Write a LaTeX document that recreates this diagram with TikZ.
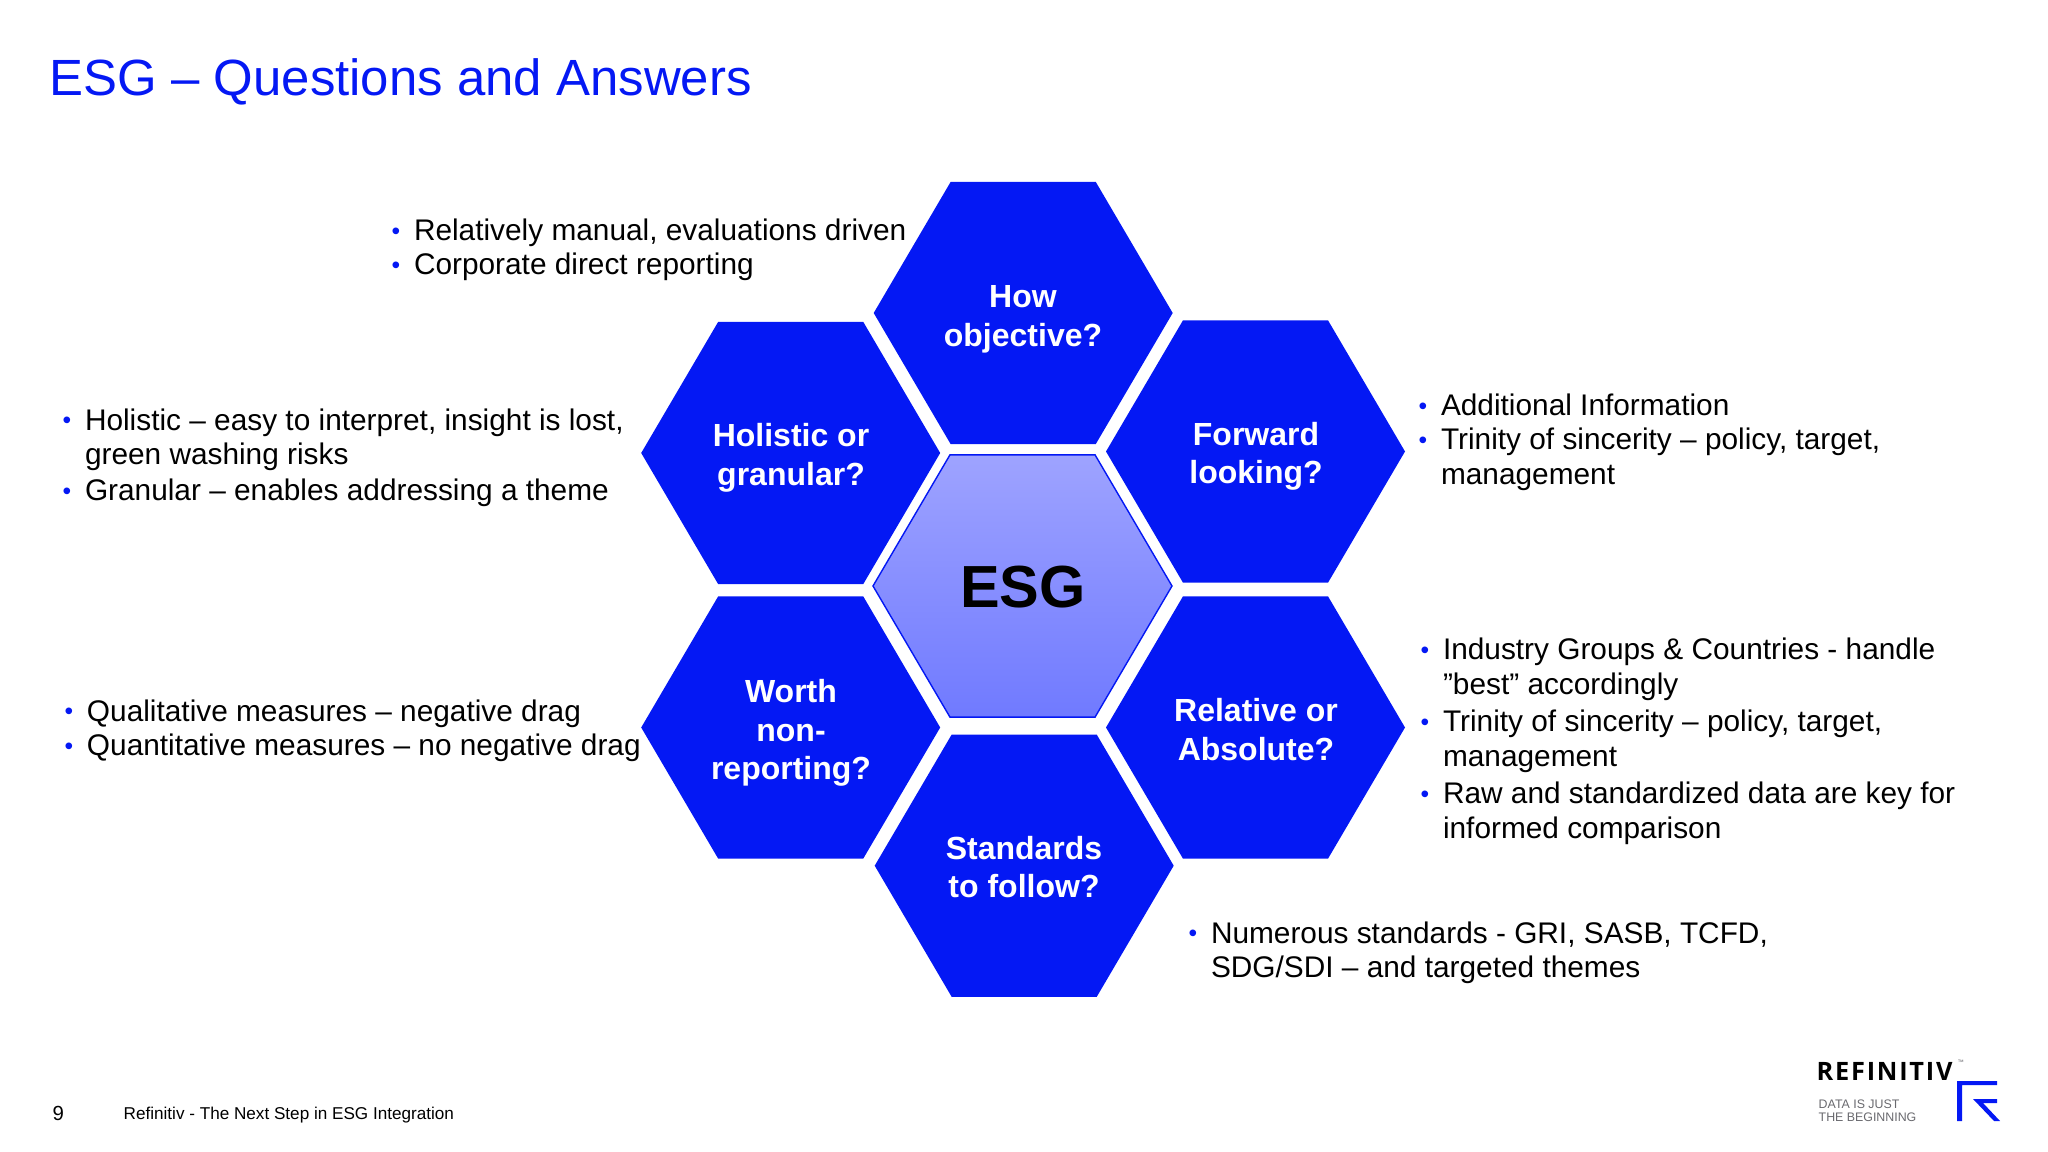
\documentclass[tikz,border=0pt]{standalone}
\usepackage{fontspec}
\setmainfont{Liberation Sans}
\newfontfamily\logofont[LetterSpace=7]{Open Sans}
\definecolor{esgblue}{RGB}{4,24,244}
\definecolor{esgtop}{RGB}{158,163,255}
\definecolor{esgbottom}{RGB}{112,122,255}
\definecolor{logogray}{RGB}{105,105,110}
\newcommand{\bul}{\llap{\raisebox{0.35pt}{\textcolor{esgblue}{\fontsize{7}{8}\selectfont •}}\hspace{0.137cm}}\strut}
\newcommand{\hexpath}{(-149.5,0) -- (-72.5,-131.2) -- (72.5,-131.2) -- (149.5,0) -- (72.5,131.2) -- (-72.5,131.2) -- cycle}
\tikzset{
	celltext/.style={inner sep=0pt, outer sep=0pt, text=white, align=center, font=\fontsize{9.1}{10.95}\selectfont\bfseries},
	answer/.style={anchor=north west, inner sep=0pt, outer sep=0pt, align=left, font=\fontsize{8.48}{9.8}\selectfont},
	tag/.style={anchor=base west, inner sep=0pt, text=logogray, font=\fontsize{3.52}{3.7}\selectfont},
}
\begin{document}
\begin{tikzpicture}[x=0.01cm,y=-0.01cm]
\useasboundingbox (0,0) rectangle (2048,1152);

\node [anchor=base west, inner sep=0pt, text=esgblue, font=\fontsize{14.48}{17}\selectfont] (title) at (49,96) {ESG – Questions and Answers};

% hexagons
\foreach \x/\y in {1023.2/313, 790.7/453, 1255.5/451.5, 790.7/727.5, 1255.5/727.5, 1024.2/865.7} {
	\fill [esgblue, shift={(\x,\y)}] \hexpath;
}
\draw [esgblue, line width=0.4pt, top color=esgtop, bottom color=esgbottom, shift={(1022.5,586)}] \hexpath;

\node [celltext] (objective) at (1023,319.5) {How\\objective?};
\node [celltext] (holistic) at (791,458) {Holistic or\\granular?};
\node [celltext] (forward) at (1256,456.5) {Forward\\looking?};
\node [celltext] (worth) at (791,733) {Worth\\non-\\reporting?};
\node [celltext] (relative) at (1256,729.5) {Relative or\\Absolute?};
\node [celltext] (standards) at (1024,867) {Standards\\to follow?};
\node [inner sep=0pt, font=\fontsize{16.9}{19}\selectfont\bfseries] (esg) at (1023,587) {ESG};

% answers
\node [answer] (manual) at (414,216.6) {\bul Relatively manual, evaluations driven};
\node [answer] (direct) at (414,250.6) {\bul Corporate direct reporting};

\node [answer] (easy) at (85,406) {\bul Holistic – easy to interpret, insight is lost,\\green washing risks};
\node [answer] (theme) at (85,476.6) {\bul Granular – enables addressing a theme};

\node [answer] (info) at (1441,391.6) {\bul Additional Information};
\node [answer] (sincere) at (1441,425.6) {\bul Trinity of sincerity – policy, target,\\management};

\node [answer] (drag) at (87,697) {\bul Qualitative measures – negative drag};
\node [answer] (nodrag) at (87,731.6) {\bul Quantitative measures – no negative drag};

\node [answer] (groups) at (1443,635.6) {\bul Industry Groups \& Countries - handle\\”best” accordingly};
\node [answer] (trinity) at (1443,707.6) {\bul Trinity of sincerity – policy, target,\\management};
\node [answer] (raw) at (1443,779.6) {\bul Raw and standardized data are key for\\informed comparison};

\node [answer] (numerous) at (1211,919) {\bul Numerous standards - GRI, SASB, TCFD,\\SDG/SDI – and targeted themes};

% footer
\node [anchor=base west, inner sep=0pt, font=\fontsize{5.8}{7}\selectfont] (page) at (52,1120) {9};
\node [anchor=base west, inner sep=0pt, font=\fontsize{4.87}{6}\selectfont] (footer) at (123,1119) {Refinitiv - The Next Step in ESG Integration};

% logo
\node [anchor=base west, inner sep=0pt, font=\fontsize{7.2}{8}\logofont\bfseries\selectfont] (refinitiv) at (1816,1080) {REFINITIV};
\node [anchor=base west, inner sep=0pt, text=logogray, font=\fontsize{1.8}{2}\selectfont] (trademark) at (1957,1064) {™};
\node [tag] (tagone) at (1818,1108) {DATA IS JUST};
\node [tag] (tagtwo) at (1818,1121) {THE BEGINNING};
\fill [esgblue] (1957,1081) -- (1997,1081) -- (1997,1085) -- (1962,1085) -- (1962,1121) -- (1957,1121) -- cycle;
\fill [esgblue] (1973,1099) -- (1997,1099) -- (1997,1103) -- (1983,1103) -- (2000,1121) -- (1994,1121) -- cycle;

\end{tikzpicture}
\end{document}
